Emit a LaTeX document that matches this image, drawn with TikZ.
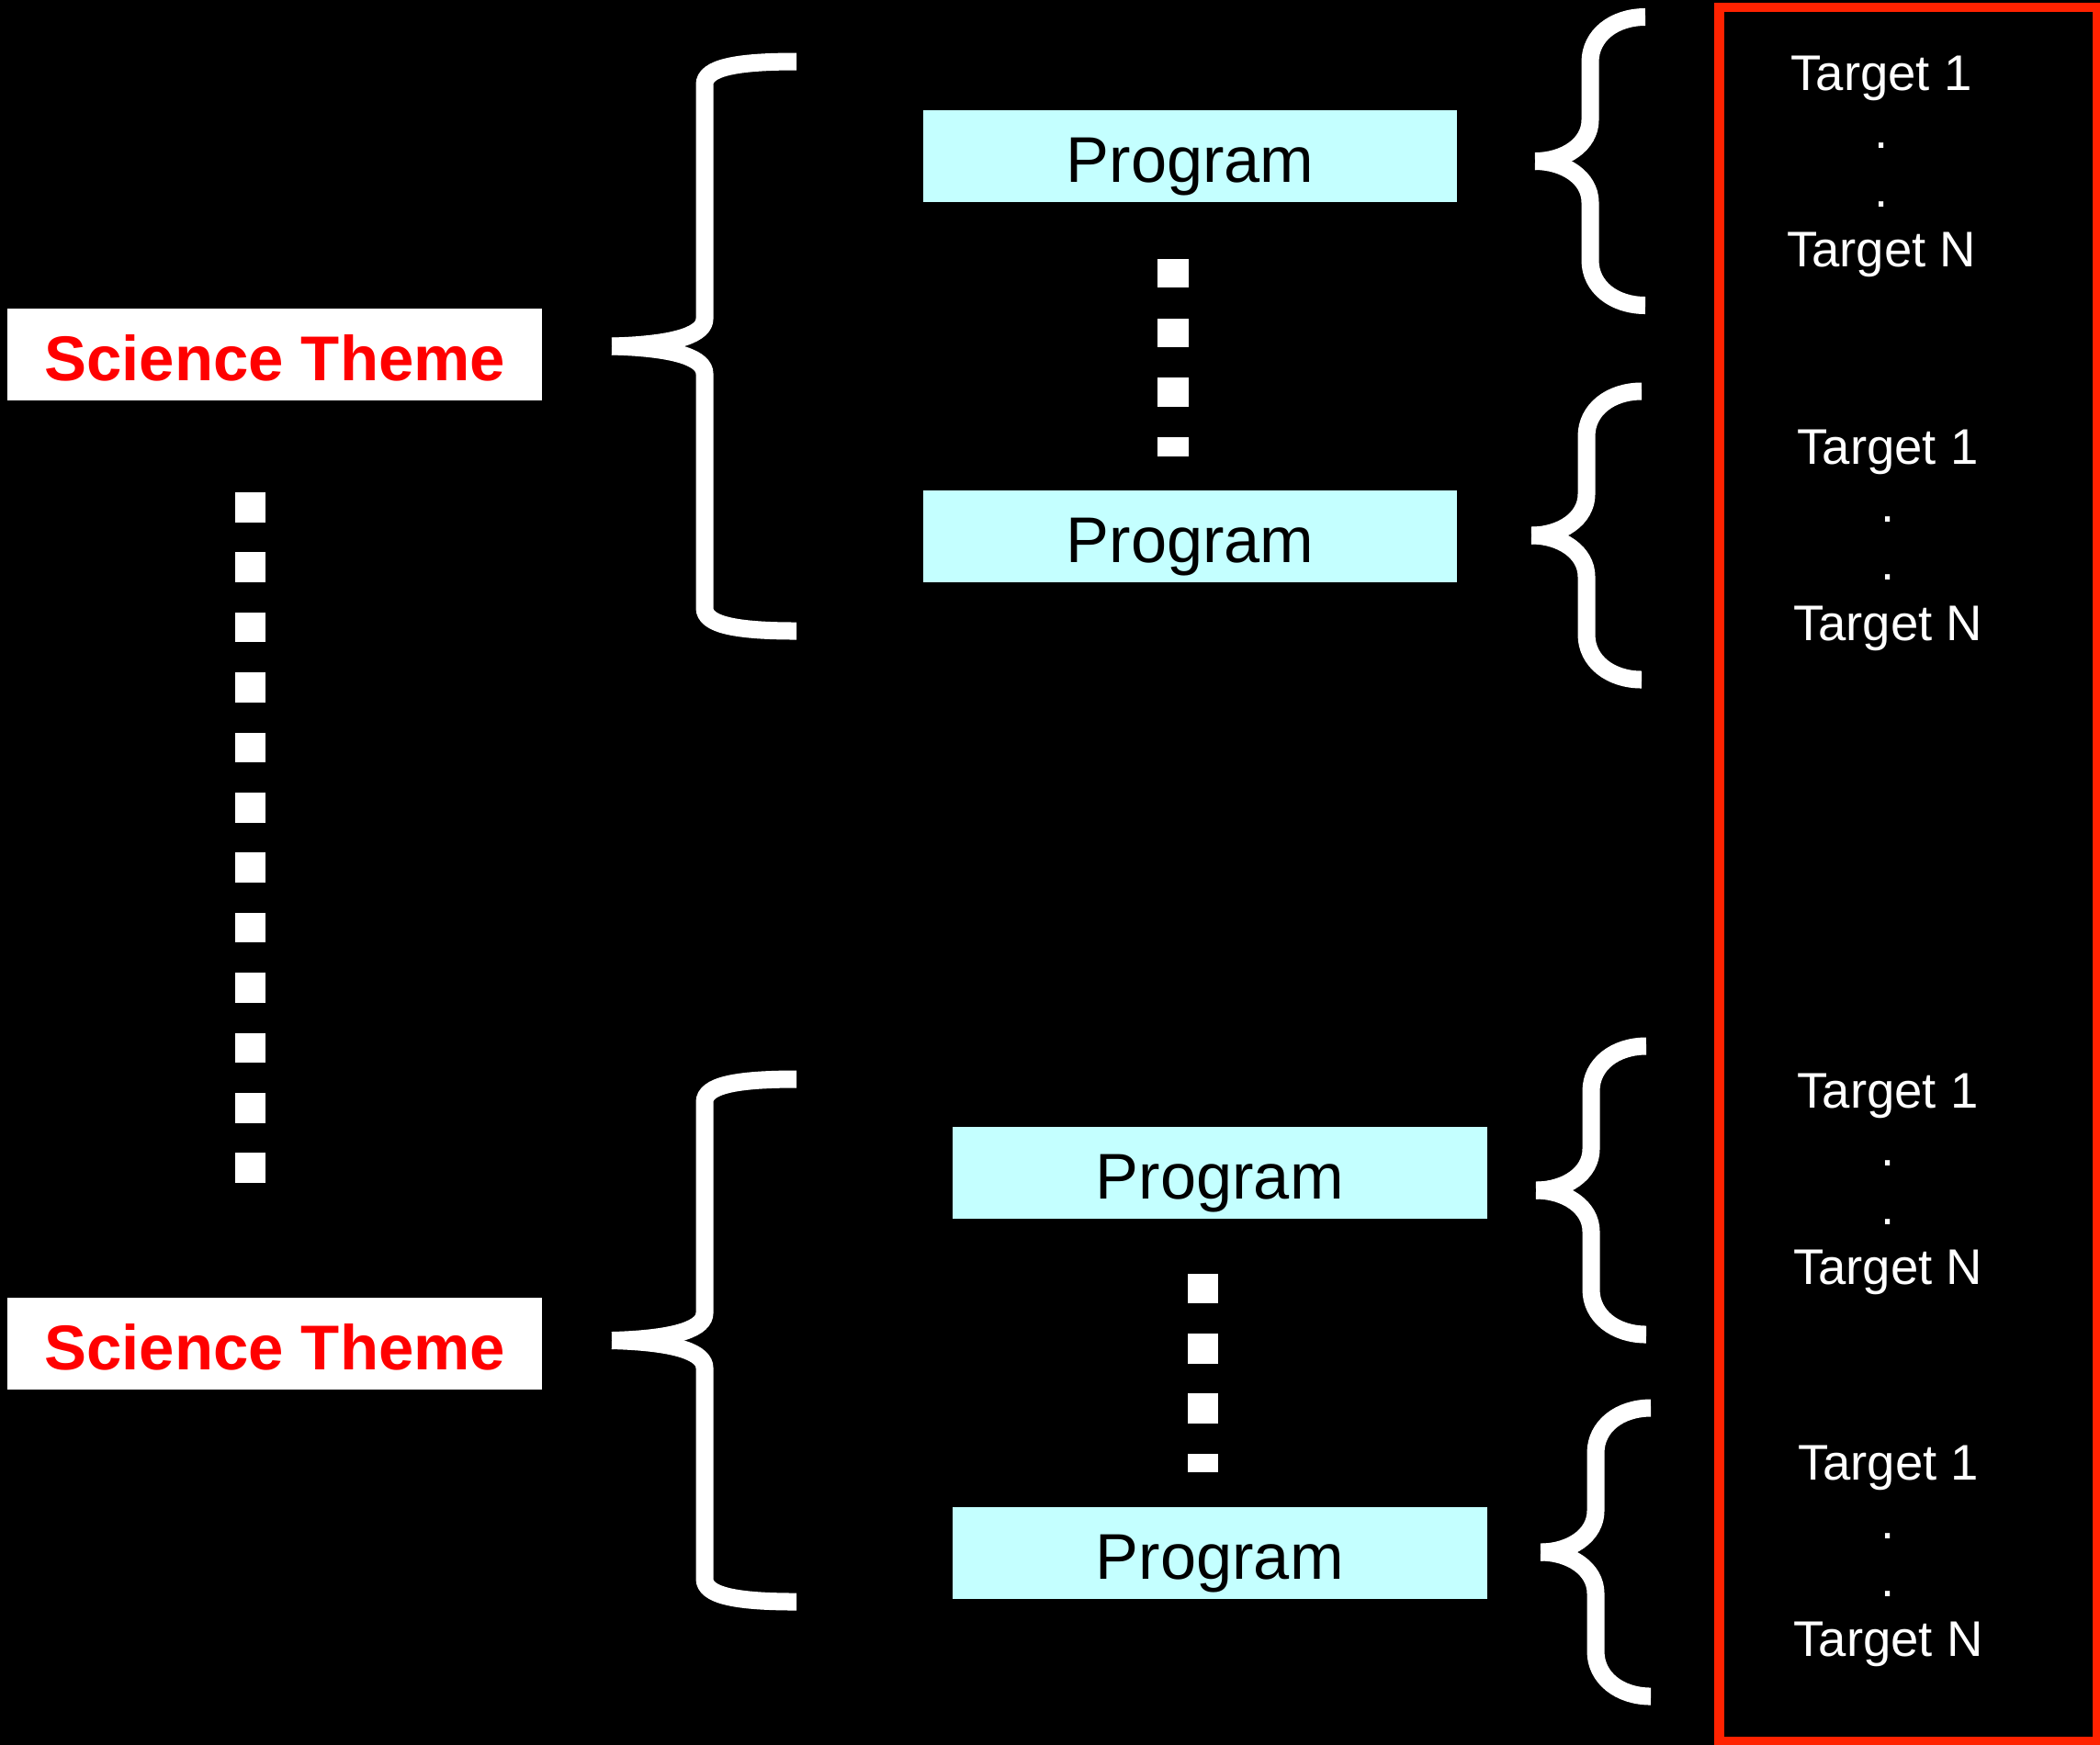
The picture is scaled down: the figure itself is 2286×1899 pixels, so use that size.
\documentclass[tikz,border=0pt]{standalone}
\usepackage{fontspec}
\setmainfont{Liberation Sans}
\definecolor{cyanbox}{RGB}{196,255,255}
\definecolor{redframe}{RGB}{255,34,0}
\definecolor{themered}{RGB}{255,0,0}
\newcommand\mylbrace[3]{%
 \draw[bracestroke] ({#1+201},{#2-#3}) .. controls ({#1+134},{#2-#3}) and ({#1+101},{#2-#3+7}) .. ({#1+101},{#2-#3+25}) -- ({#1+101},{#2-30}) .. controls ({#1+101},{#2-14}) and ({#1+74},{#2-2}) .. (#1,#2);
 \draw[bracestroke] (#1,#2) .. controls ({#1+74},{#2+2}) and ({#1+101},{#2+14}) .. ({#1+101},{#2+30}) -- ({#1+101},{#2+#3-25}) .. controls ({#1+101},{#2+#3-7}) and ({#1+134},{#2+#3}) .. ({#1+201},{#2+#3});}
\newcommand\myrbrace[2]{%
 \draw[bracestroke] ({#1+120},{#2-157}) .. controls ({#1+86},{#2-157}) and ({#1+60},{#2-137}) .. ({#1+60},{#2-108}) -- ({#1+60},{#2-45}) .. controls ({#1+60},{#2-18}) and ({#1+32},{#2}) .. (#1,#2);
 \draw[bracestroke] (#1,#2) .. controls ({#1+32},{#2}) and ({#1+60},{#2+18}) .. ({#1+60},{#2+45}) -- ({#1+60},{#2+108}) .. controls ({#1+60},{#2+137}) and ({#1+86},{#2+157}) .. ({#1+120},{#2+157});}
\begin{document}
\begin{tikzpicture}[x=0.01cm,y=-0.01cm,
  bracestroke/.style={white,line width=0.19cm,line cap=butt},
  themebox/.style={fill=white,draw=none,minimum width=5.815cm,minimum height=1cm,inner sep=0pt,text height=0.56cm,text depth=0pt,text=themered,font=\bfseries\fontsize{19.6pt}{24pt}\selectfont},
  progbox/.style={fill=cyanbox,draw=none,minimum width=5.815cm,minimum height=1cm,inner sep=0pt,text height=0.56cm,text depth=0pt,text=black,font=\fontsize{20pt}{24pt}\selectfont},
  tgt/.style={text=white,anchor=base,inner sep=0pt,font=\fontsize{15.5pt}{18pt}\selectfont}]
\useasboundingbox (0,0) rectangle (2286,1899);
\fill[black] (-10,-10) rectangle (2296,1909);
% science themes
\node[themebox] (st1) at (299.25,386) {Science Theme};
\node[themebox] (st2) at (299.25,1463) {Science Theme};
% programs
\node[progbox] (p1) at (1295.5,170) {Program};
\node[progbox] (p2) at (1295.5,584) {Program};
\node[progbox] (p3) at (1327.8,1277) {Program};
\node[progbox] (p4) at (1327.8,1691) {Program};
% left vertical dots
\foreach \k in {0,...,11} \fill[white] (256,{536+65.4*\k}) rectangle (289,{568.6+65.4*\k});
% middle dots (top)
\fill[white] (1260,282) rectangle (1294,313);
\fill[white] (1260,346.5) rectangle (1294,378);
\fill[white] (1260,411) rectangle (1294,442.5);
\fill[white] (1260,476) rectangle (1294,496.5);
% middle dots (bottom)
\fill[white] (1293,1386.7) rectangle (1326,1419.3);
\fill[white] (1293,1452.3) rectangle (1326,1484.7);
\fill[white] (1293,1517.3) rectangle (1326,1550);
\fill[white] (1293,1582.7) rectangle (1326,1603.3);
% left braces
\mylbrace{666}{377}{310}
\mylbrace{666}{1459.5}{284.5}
% right braces
\myrbrace{1671}{175.5}
\myrbrace{1667}{583}
\myrbrace{1672}{1296}
\myrbrace{1677}{1690}
% red frame
\draw[redframe,line width=0.107cm] (1871.3,8) rectangle (2283.7,1896);
% targets
\foreach \g/\x/\b in {1/2048/98.3, 2/2055/505.1, 3/2055/1206.3, 4/2055.5/1611.7} {
  \node[tgt] (t\g a) at (\x,\b) {Target 1};
  \node[tgt] (t\g b) at (\x,{\b+63.4}) {.};
  \node[tgt] (t\g c) at (\x,{\b+126.7}) {.};
  \node[tgt] (t\g d) at (\x,{\b+192}) {Target N};
}
\end{tikzpicture}
\end{document}
